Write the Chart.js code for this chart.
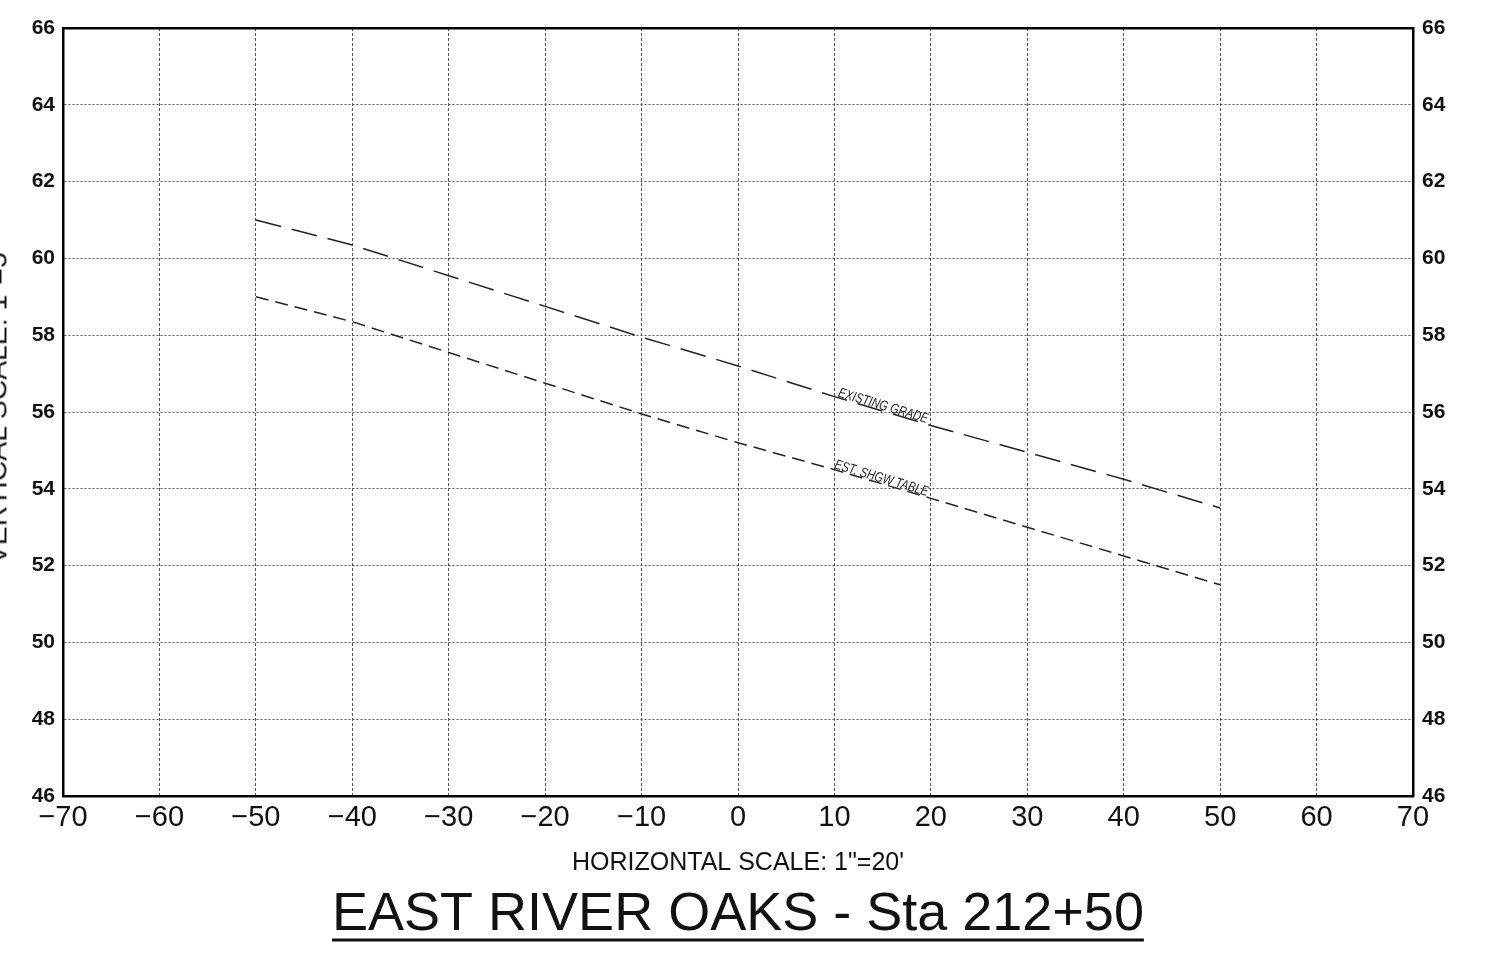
<!DOCTYPE html>
<html>
<head>
<meta charset="utf-8">
<script src="https://cdn.jsdelivr.net/npm/chart.js@4.4.1/dist/chart.umd.min.js"></script>
<style>
  html, body { margin: 0; padding: 0; background: #fff; overflow: hidden; }
  #wrap { position: relative; width: 1496px; height: 953px; }
  #profile { position: absolute; left: 0; top: 0; }
  #vscale {
    position: absolute; left: -202px; top: 390px; width: 400px;
    line-height: 27px; text-align: center;
    font: 27px "Liberation Sans", Arial, sans-serif; color: #111;
    transform: rotate(-90deg) scaleX(1.05);
  }
</style>
</head>
<body>
<div id="wrap">
  <canvas id="profile" width="1496" height="953"></canvas>
  <div id="vscale">VERTICAL SCALE: 1"=5'</div>
</div>
<script>
const offsets = [-50, -40, -30, -20, -10, 0, 10, 20, 30, 40, 50];
const existingGrade = [61.0, 60.35, 59.55, 58.75, 57.95, 57.2, 56.4, 55.65, 54.95, 54.25, 53.5];
const shgwTable = [59.0, 58.35, 57.55, 56.75, 55.95, 55.2, 54.5, 53.75, 53.0, 52.25, 51.5];

const xMin = -70, xMax = 70, xStep = 10;
const yMin = 46, yMax = 66, yStep = 2;

const lineLabels = ["EXISTING GRADE", "EST. SHGW TABLE"];
const labelAt = [10.3, 9.9];

const mainTitle = "EAST RIVER OAKS - Sta 212+50";
const hTitle = "HORIZONTAL SCALE: 1\"=20'";

const toPts = (vals) => offsets.map((x, i) => ({ x: x, y: vals[i] }));

const interp = (vals, x) => {
  for (let i = 0; i < offsets.length - 1; i++) {
    if (x >= offsets[i] && x <= offsets[i + 1]) {
      const t = (x - offsets[i]) / (offsets[i + 1] - offsets[i]);
      return vals[i] + t * (vals[i + 1] - vals[i]);
    }
  }
  return vals[vals.length - 1];
};

const sans = "'Liberation Sans', Arial, sans-serif";
const titleSize = 54;

// CAD style text written along each line
const lineLabelPlugin = {
  id: "lineLabels",
  afterDatasetsDraw(chart) {
    const { ctx, scales } = chart;
    const series = [existingGrade, shgwTable];
    ctx.save();
    ctx.fillStyle = "#222";
    ctx.font = "italic 14px " + sans;
    ctx.textBaseline = "alphabetic";
    series.forEach((vals, i) => {
      const x0 = labelAt[i];
      const x1 = x0 + 10;
      const px0 = scales.x.getPixelForValue(x0);
      const py0 = scales.y.getPixelForValue(interp(vals, x0));
      const px1 = scales.x.getPixelForValue(x1);
      const py1 = scales.y.getPixelForValue(interp(vals, x1));
      const ang = Math.atan2(py1 - py0, px1 - px0);
      ctx.save();
      ctx.translate(px0, py0);
      ctx.rotate(ang);
      ctx.scale(0.78, 1);
      ctx.fillText(lineLabels[i], 0, -1);
      ctx.restore();
    });
    ctx.restore();
  }
};

// underline under the big title
const underlinePlugin = {
  id: "underline",
  afterDraw(chart) {
    const { ctx } = chart;
    const tb = chart.titleBlock;
    if (!tb) return;
    ctx.save();
    ctx.font = titleSize + "px " + sans;
    const w = ctx.measureText(mainTitle).width;
    const cx = (tb.left + tb.right) / 2;
    const y = tb.top + titleSize;
    ctx.strokeStyle = "#111";
    ctx.lineWidth = 3;
    ctx.beginPath();
    ctx.moveTo(cx - w / 2, y);
    ctx.lineTo(cx + w / 2, y);
    ctx.stroke();
    ctx.restore();
  }
};

const minusFmt = (v) => (v < 0 ? "\u2212" + Math.abs(v) : String(v));

const ctx = document.getElementById("profile").getContext("2d");

const chart = new Chart(ctx, {
  type: "line",
  data: {
    datasets: [
      {
        label: "Existing Grade",
        data: toPts(existingGrade),
        borderColor: "#222",
        borderWidth: 1.5,
        borderDash: [26, 11],
        pointRadius: 0,
        tension: 0,
        fill: false,
      },
      {
        label: "Est. SHGW Table",
        data: toPts(shgwTable),
        borderColor: "#222",
        borderWidth: 1.5,
        borderDash: [13, 7],
        pointRadius: 0,
        tension: 0,
        fill: false,
      },
    ],
  },
  options: {
    responsive: false,
    animation: false,
    devicePixelRatio: 1,
    layout: { padding: { top: 28, left: 0, right: 0, bottom: 0 } },
    plugins: {
      legend: { display: false },
      tooltip: { enabled: false },
      title: {
        display: true,
        text: mainTitle,
        position: "bottom",
        fullSize: false,
        color: "#111",
        font: { family: sans, size: titleSize, weight: "normal", lineHeight: 1 },
        padding: { top: 2, bottom: 11 },
      },
    },
    scales: {
      x: {
        type: "linear",
        position: "bottom",
        min: xMin,
        max: xMax,
        ticks: {
          stepSize: xStep,
          color: "#111",
          padding: 7,
          maxRotation: 0,
          font: { family: sans, size: 29, lineHeight: 1 },
          callback: minusFmt,
        },
        grid: { color: "#555", lineWidth: 1, drawTicks: false },
        border: { color: "#000", width: 2.5, dash: [3, 2] },
        title: {
          display: true,
          text: hTitle,
          color: "#111",
          font: { family: sans, size: 25, lineHeight: 1.2 },
          padding: { top: 0, bottom: 8 },
        },
        afterFit: (s) => { s.height = 90; },
      },
      xTop: {
        type: "linear",
        position: "top",
        min: xMin,
        max: xMax,
        ticks: { display: false },
        grid: { display: false },
        border: { color: "#000", width: 2.5 },
        afterFit: (s) => { s.height = 0; },
      },
      y: {
        position: "left",
        min: yMin,
        max: yMax,
        ticks: {
          stepSize: yStep,
          color: "#111",
          padding: 8,
          font: { family: sans, size: 21, weight: "bold" },
        },
        grid: { color: "#555", lineWidth: 1, drawTicks: false },
        border: { color: "#000", width: 2.5, dash: [2, 2] },
        afterFit: (s) => { s.width = 63; },
      },
      yRight: {
        position: "right",
        min: yMin,
        max: yMax,
        ticks: {
          stepSize: yStep,
          color: "#111",
          padding: 9,
          font: { family: sans, size: 21, weight: "bold" },
        },
        grid: { display: false, drawTicks: false },
        border: { color: "#000", width: 2.5 },
        afterFit: (s) => { s.width = 83; },
      },
    },
  },
  plugins: [lineLabelPlugin, underlinePlugin],
});
</script>
</body>
</html>
